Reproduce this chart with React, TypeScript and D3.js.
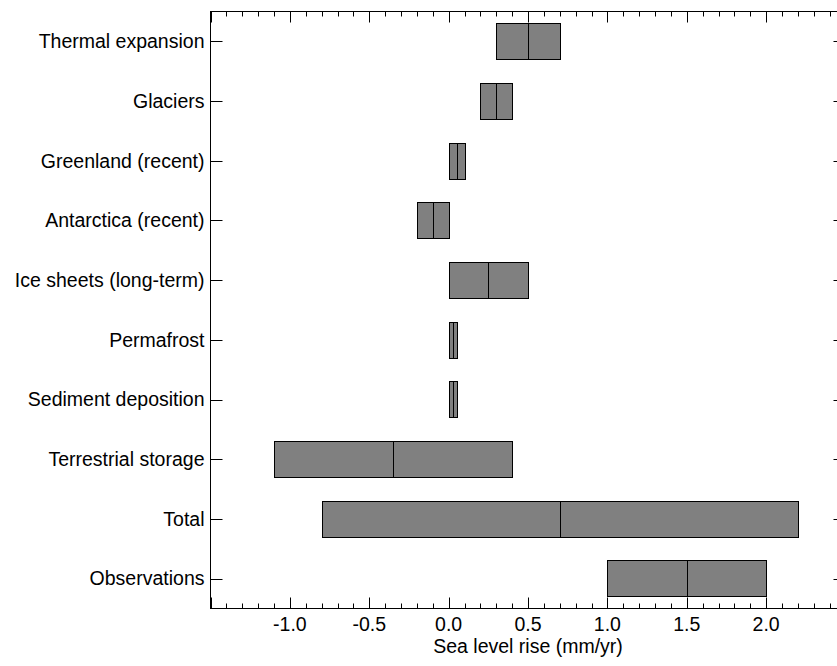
import { useEffect, useRef } from "react"
import * as d3 from "d3"

const categories = [
    "Thermal expansion",
    "Glaciers",
    "Greenland (recent)",
    "Antarctica (recent)",
    "Ice sheets (long-term)",
    "Permafrost",
    "Sediment deposition",
    "Terrestrial storage",
    "Total",
    "Observations",
]
const lows = [0.3, 0.2, 0.0, -0.2, 0.0, 0.0, 0.0, -1.1, -0.8, 1.0]
const mids = [0.5, 0.3, 0.05, -0.1, 0.25, 0.025, 0.025, -0.35, 0.7, 1.5]
const highs = [0.7, 0.4, 0.1, 0.0, 0.5, 0.05, 0.05, 0.4, 2.2, 2.0]
const xTickLabels = ["-1.0", "-0.5", "0.0", "0.5", "1.0", "1.5", "2.0"]

export default function App() {
    const svgRef = useRef<SVGSVGElement>(null)

    useEffect(() => {
        const width = 837, height = 666
        const left = 210.5, right = 845.5, top = 11.5, bottom = 608.5
        const font = "'Liberation Sans', Arial, Helvetica, sans-serif"

        d3.select(svgRef.current).selectAll("*").remove()
        const svg = d3.select(svgRef.current)
            .attr("width", width)
            .attr("height", height)
            .style("font-family", font)

        const data = categories.map((c, i) => ({ category: c, low: lows[i], mid: mids[i], high: highs[i] }))

        const x = d3.scaleLinear().domain([-1.5, 2.5]).range([left, right])
        const y = d3.scaleBand()
            .domain(categories)
            .range([top, bottom])
            .paddingInner(0.39)
            .paddingOuter(0.195)

        const major = d3.range(-1.5, 2.501, 0.5)
        const minor = d3.range(-1.5, 2.501, 0.1)

        // bars
        svg.selectAll(".bar")
            .data(data)
            .join("rect")
                .attr("class", "bar")
                .attr("x", d => Math.round(x(d.low)) + 0.5)
                .attr("y", d => Math.round(y(d.category)!) + 0.5)
                .attr("width", d => Math.round(x(d.high)) - Math.round(x(d.low)))
                .attr("height", Math.round(y.bandwidth()))
                .attr("fill", "#808080")
                .attr("stroke", "#000")
                .attr("stroke-width", 1)

        // medians
        svg.selectAll(".med")
            .data(data)
            .join("line")
                .attr("class", "med")
                .attr("x1", d => Math.round(x(d.mid)) + 0.5)
                .attr("x2", d => Math.round(x(d.mid)) + 0.5)
                .attr("y1", d => Math.round(y(d.category)!) + 0.5)
                .attr("y2", d => Math.round(y(d.category)!) + 0.5 + Math.round(y.bandwidth()))
                .attr("stroke", "#000")
                .attr("stroke-width", 1)

        // frame
        svg.append("rect")
            .attr("x", left)
            .attr("y", top)
            .attr("width", right - left)
            .attr("height", bottom - top)
            .attr("fill", "none")
            .attr("stroke", "#000")
            .attr("stroke-width", 1)

        const isMajor = (v: number) => major.some(m => Math.abs(m - v) < 1e-6)
        const px = (v: number) => Math.round(x(v)) + 0.5

        // x ticks, bottom (pointing up) and top (pointing down)
        svg.selectAll(".xtb")
            .data(minor)
            .join("line")
                .attr("x1", d => px(d)).attr("x2", d => px(d))
                .attr("y1", bottom).attr("y2", d => bottom - (isMajor(d) ? 11 : 5))
                .attr("stroke", "#000")
        svg.selectAll(".xtt")
            .data(minor)
            .join("line")
                .attr("x1", d => px(d)).attr("x2", d => px(d))
                .attr("y1", top).attr("y2", d => top + (isMajor(d) ? 11 : 5))
                .attr("stroke", "#000")

        // tick labels
        svg.selectAll(".xl")
            .data(xTickLabels)
            .join("text")
                .attr("x", d => x(+d))
                .attr("y", 631)
                .attr("text-anchor", "middle")
                .style("font-size", "19.5px")
                .text(d => d)

        // y ticks
        const yc = (c: string) => Math.round(y(c)! + y.bandwidth() / 2) + 0.5
        svg.selectAll(".ytl")
            .data(categories)
            .join("line")
                .attr("x1", left).attr("x2", left + 12)
                .attr("y1", d => yc(d)).attr("y2", d => yc(d))
                .attr("stroke", "#000")
        svg.selectAll(".ytr")
            .data(categories)
            .join("line")
                .attr("x1", right).attr("x2", right - 12)
                .attr("y1", d => yc(d)).attr("y2", d => yc(d))
                .attr("stroke", "#000")

        svg.selectAll(".yl")
            .data(categories)
            .join("text")
                .attr("x", left - 6)
                .attr("y", d => y(d)! + y.bandwidth() / 2)
                .attr("dy", "0.35em")
                .attr("text-anchor", "end")
                .style("font-size", "19.5px")
                .text(d => d)

        // x-axis label
        svg.append("text")
            .attr("x", (left + right) / 2)
            .attr("y", 653)
            .attr("text-anchor", "middle")
            .style("font-size", "19.5px")
            .text("Sea level rise (mm/yr)")
    }, [])

    return (
        <svg ref={svgRef} style={{ position: "fixed", left: 0, top: 0, display: "block", background: "#fff" }}></svg>
    )
}
